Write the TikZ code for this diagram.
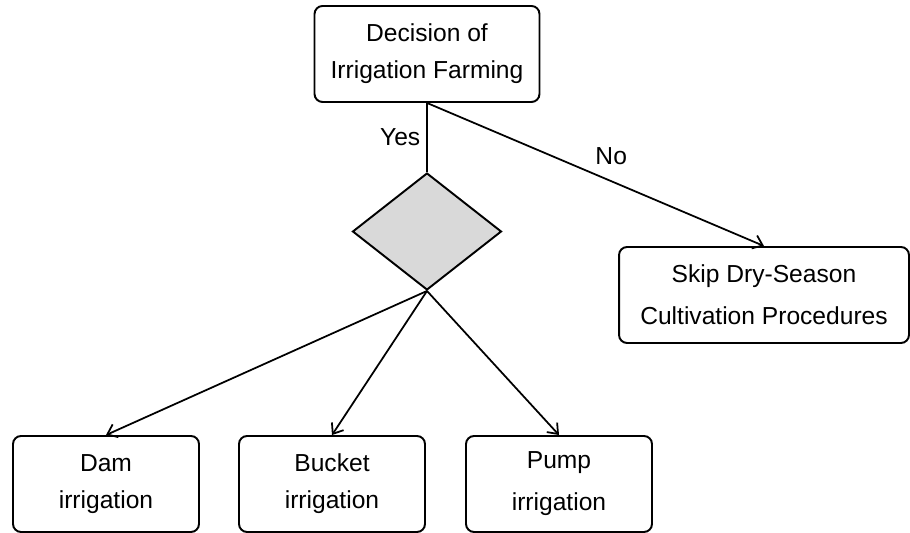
\documentclass[tikz,border=0pt]{standalone}
\usepackage{fontspec}
\setmainfont{Liberation Sans}
\usetikzlibrary{shapes.geometric,arrows.meta}

\begin{document}
\begin{tikzpicture}[x=0.02cm,y=-0.02cm]
    % Setup the styles for the boxes
        \tikzset{box style/.style={draw,
                                   rounded corners=0.16cm,
                                   line width=1.1pt,
                                   minimum height=1.92cm,
                                   align=center,
                                   font=\fontsize{14}{21}\selectfont},
                 choice style/.style={diamond,
                                      draw,
                                      line width=1.1pt,
                                      fill=gray!30,
                                      inner sep=0pt,
                                      minimum width=2.98cm,
                                      minimum height=2.34cm},
                 arrow style/.style={-{Straight Barb[length=1.8mm,width=2.8mm]}}}
        \useasboundingbox (0,0) rectangle (910,533);
        % Draw the boxes
        \node[box style, minimum width=4.5cm] at (427,54)     (decision) {Decision of\\Irrigation Farming};
        \node[choice style] at (427,231.5)                      (choice)   {};
        \node[box style, minimum width=5.8cm,
              font=\fontsize{14}{24}\selectfont] at (764,295) (skip)     {Skip Dry-Season\\Cultivation Procedures};
        \node[box style, minimum width=3.72cm] at (106,484)   (dam)      {Dam\\irrigation};
        \node[box style, minimum width=3.72cm] at (332,484)   (bucket)   {Bucket\\irrigation};
        \node[box style, minimum width=3.72cm,
              font=\fontsize{14}{24}\selectfont] at (559,484) (pump)     {Pump\\irrigation};
        % Connect the boxes with lines
        \draw[line width=1pt,
              font=\fontsize{14}{17}\selectfont]
        (decision.south) edge node[left]{Yes} (choice.north)
        (decision.south) edge[arrow style] node[above right, pos=0.48]{No} (skip.north);
        \draw[line width=1pt]
        (choice.south) edge[arrow style] (dam.north)
        (choice.south) edge[arrow style] (bucket.north)
        (choice.south) edge[arrow style] (pump.north);
\end{tikzpicture}
\end{document}
